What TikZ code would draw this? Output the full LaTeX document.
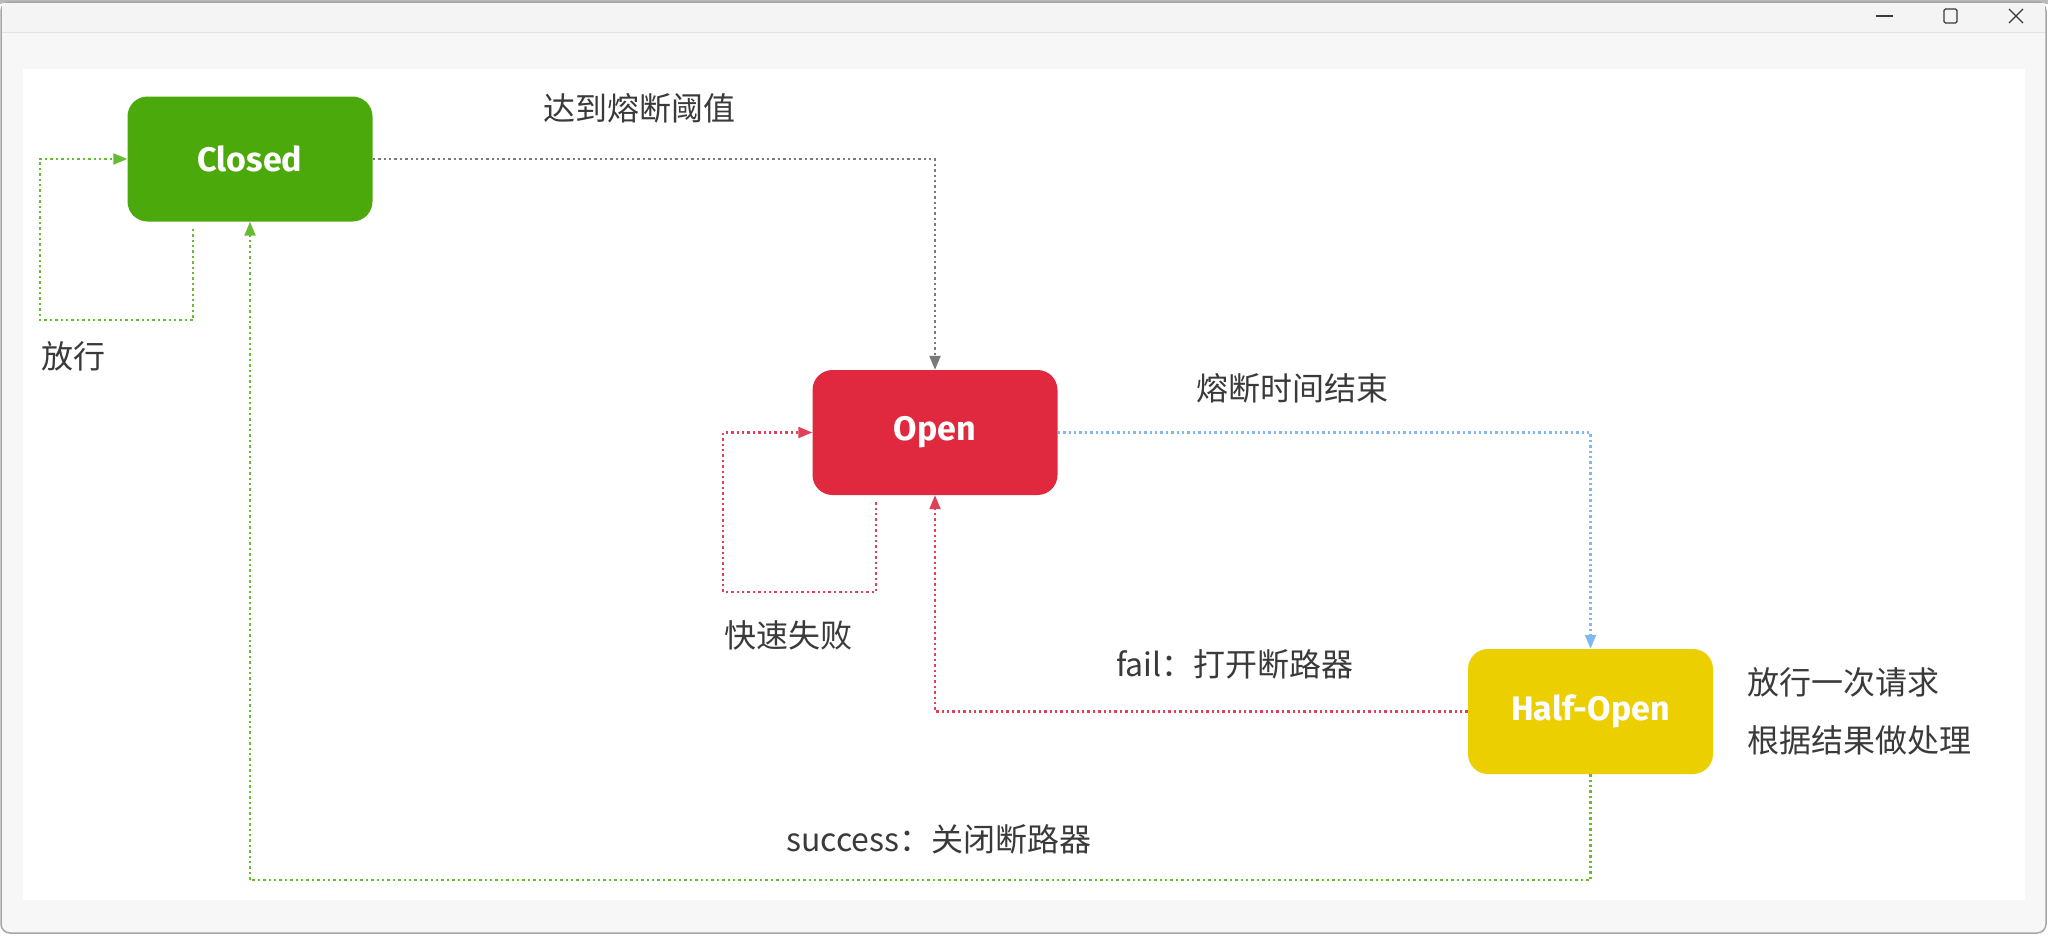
\documentclass[tikz,border=0pt]{standalone}
\usepackage{fontspec}
\setmainfont{Noto Sans CJK SC}
\newfontfamily\boxfont{Fira Sans}
\usetikzlibrary{arrows.meta}
\definecolor{cgreen}{HTML}{4CA90C}
\definecolor{cred}{HTML}{E0293E}
\definecolor{cyellow}{HTML}{EBCF00}
\definecolor{lgray}{HTML}{7A7A7A}
\definecolor{lgreen}{HTML}{66BB33}
\definecolor{lred}{HTML}{E04058}
\definecolor{lblue}{HTML}{80B8F0}
\definecolor{txt}{HTML}{3A3A3A}
\tikzset{
  state/.style={rounded corners=20pt, minimum width=245pt, minimum height=125pt,
    text=white, font=\boxfont\bfseries\fontsize{34}{40}\selectfont, inner sep=0pt},
  conn/.style={line width=2.2pt, dash pattern=on 2.4pt off 3pt,
    -{Triangle[length=14pt,width=11pt]}},
  lbl/.style={text=txt, font=\fontsize{32}{38}\selectfont, inner sep=0pt},
}
\begin{document}
\begin{tikzpicture}[x=1pt,y=-1pt]
\useasboundingbox (0,0) rectangle (2048,935);
% window chrome
\fill[white] (0,0) rectangle (2048,935);
\fill[gray!55] (0,0) rectangle (2048,4);
\draw[fill=white!97!black, draw=gray!70, line width=1.5pt, rounded corners=9pt] (1,2) rectangle (2046,933);
\fill[white!95.5!black] (2,3) rectangle (2045,32);
\draw[white!89!black, line width=1pt] (2,32) -- (2045,32);
\fill[white] (23,69) rectangle (2025,900);
\draw[txt, line width=1.2pt] (1876,16) -- (1893,16);
\draw[txt, line width=1.2pt, rounded corners=1.5pt] (1944,9) rectangle (1957,23);
\draw[txt, line width=1.2pt] (2009,9) -- (2023,23) (2023,9) -- (2009,23);
% states
\node[state, fill=cgreen] (closed) at (250,159) {Closed};
\node[state, fill=cred] (open) at (935,432.5) {Open};
\node[state, fill=cyellow] (half) at (1590.5,711.5) {Half-Open};
% connectors
\draw[conn, lgray] (closed.east) -| (open.north);
\draw[conn, lgreen] ([xshift=-57pt,yshift=-7pt]closed.south) |- (40,320) |- (closed.west);
\draw[conn, lblue] (open.east) -| (half.north);
\draw[conn, lred] ([xshift=-59pt,yshift=-7pt]open.south) |- (723,592) |- (open.west);
\draw[conn, lred] (half.west) -| (open.south);
\draw[conn, lgreen] (half.south) -- ++(0,106) -| (closed.south);
% labels
\node[lbl] (l1) at (639,108) {达到熔断阈值};
\node[lbl] (l2) at (73,356) {放行};
\node[lbl] (l3) at (1292,388) {熔断时间结束};
\node[lbl] (l4) at (788,635) {快速失败};
\node[lbl] (l5) at (1235,664) {fail：打开断路器};
\node[lbl, anchor=west] (l6) at (1747,682) {放行一次请求};
\node[lbl, anchor=west] (l7) at (1747,740) {根据结果做处理};
\node[lbl] (l8) at (939,839) {success：关闭断路器};
\end{tikzpicture}
\end{document}
